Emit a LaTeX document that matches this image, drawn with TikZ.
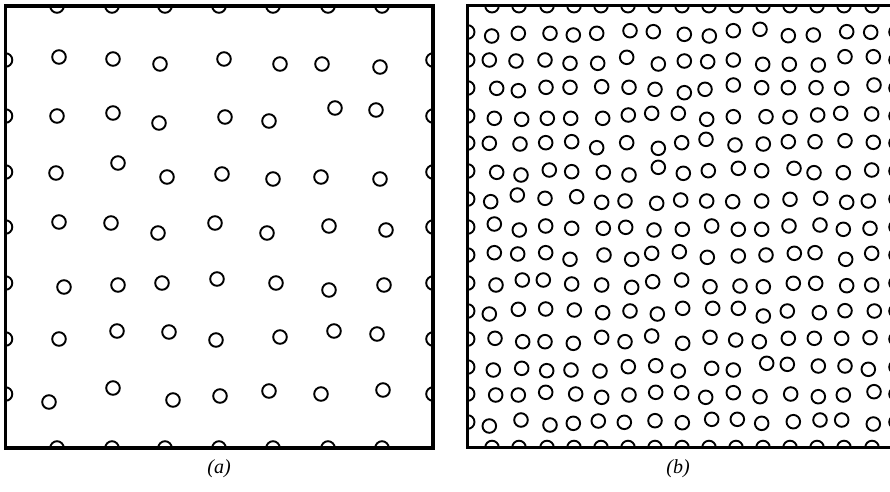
\documentclass[tikz,border=0pt]{standalone}
\usepackage{fontspec}
\setmainfont{Liberation Serif}
\begin{document}
\begin{tikzpicture}[x=1pt,y=-1pt,
  ring/.style={line width=1.9pt},
  framebox/.style={line width=3.4pt},
  caption/.style={font=\fontsize{20}{24}\selectfont\itshape, inner sep=0pt}]
\path[use as bounding box] (0,0) rectangle (890,491);
\clip (0,0) rectangle (890,491);
% ---------------- panel (a) ----------------
\begin{scope}
\clip (5.5,6) rectangle (433,448);
\foreach \x/\y in {
 59/57,113/59,160/64,224/59,280/64,322/64,380/67,
 57/116,113/113,159/123,225/117,269/121,335/108,376/110,
 56/173,118/163,167/177,222/174,273/179,321/177,380/179,
 59/222,111/223,158/233,215/223,267/233,329/226,386/230,
 64/287,118/285,162/283,217/279,276/283,329/290,384/285,
 59/339,117/331,169/332,216/340,280/337,334/331,377/334,
 49/402,113/388,173/400,220/396,269/391,321/394,383/390}
  \draw[ring] (\x,\y) circle (6.8pt);
\foreach \x in {57,112,165,219,273,328,382}{
  \draw[ring] (\x,6) circle (6.8pt);
  \draw[ring] (\x,448) circle (6.8pt);}
\foreach \y in {60,116,172,227,283,339,394}{
  \draw[ring] (5.5,\y) circle (6.8pt);
  \draw[ring] (433,\y) circle (6.8pt);}
\end{scope}
\draw[framebox] (5.5,6) rectangle (433,448);
% ---------------- panel (b) ----------------
\begin{scope}
\clip (467.7,5.7) rectangle (896,447.5);
\foreach \x/\y in {
 491.7/36,518.3/33.3,550/33.3,573.3/35,596.7/33.3,630/30.7,653.3/31.7,684.3/34.3,709.3/36,733.3/30.7,760/29.3,788.3/35.7,813.3/35,846.7/31.7,870.7/32.3,
 489.3/60,516/61,545/60,570/63.3,597.7/63.3,626.7/57.3,658.3/64,684.3/61,707.7/61.7,733.3/60,762.7/64.3,789.3/64.3,818.3/65,845/56.7,873.3/56.7,
 496.7/88.3,518.3/90.7,546/87.3,570/87.3,601.7/86.7,629/87.3,655/89.3,684.3/92.7,705/89.3,733.3/85,761.7/87.7,788.3/87.7,816/87.7,841.7/88.3,874/85,
 494.3/118.3,521.7/119.3,547.3/118.3,570.7/118.3,602.7/118.3,628.3/115,651.7/113.3,678.3/113.3,706.7/119.3,733.3/116.7,766/116.7,790/117.3,817.7/115,840.7/113.3,871.7/114,
 489.3/143.3,520/144,545.7/142.7,571.7/141.7,596.7/147.7,626.7/142.7,658.3/148.3,681.7/142.7,706/139.3,735/145,763.3/144,788.3/141.7,815/141.7,845/140.7,873.3/142.3,
 496.7/172.3,521/175,549.3/170,571.7/171.7,603.3/172.3,629/175,658.3/167.3,683.3/173.3,708.3/170.7,738.3/168.3,761.7/170.7,794/168.3,814/172.7,843.3/172.7,871.7/170,
 490.7/201.7,517.3/195,545/198.3,576.7/196.7,601.7/202.3,625/201,656.7/203.3,680.7/200,706.7/201,732.7/201.7,761.7/201,790/199.3,820.7/198.3,846.7/202.3,868.3/201,
 494.3/224,519.3/230,545.7/226,571.7/228.3,603.3/228.3,625.7/227.3,654/230,682.3/229.3,711.7/226,738.3/229.3,761.7/229.3,789/226,820/225,843.3/229.3,870/228.3,
 494.3/252.7,517.7/254,545.7/252.7,570/259.3,604/255,631.7/259.3,651.7/253.3,679.3/251.7,707.3/257.3,738.3/256,766/255,794.3/253.3,815/252.7,845.7/259.3,871.7/253.3,
 496/285,522.3/280,543.3/280,571.7/284,601.7/285,631.7/287.3,652.7/281.7,681.7/280,710/286.7,740/286,763.3/286.7,793.3/283.3,815.7/283.3,846.7/285.7,871.7/285,
 489.3/314,518.3/309.3,545.7/309,574.3/310,602.7/312.7,630/311,657.3/314,682.7/308.3,712.7/308.3,738.3/308.3,763.3/316,787.3/311,819.3/312.7,845/310.7,874.3/311,
 495/338.3,522.7/341.7,545/341.7,573.3/343.3,601.7/337.3,625/341.7,651.7/336,682.7/343.3,710/337.3,735.7/340,759.3/341.7,788.3/338.3,814.3/338.3,841.7/338.3,870/337.7,
 493.3/370,521.7/368.3,546.7/370.7,571/370,600/371,628.3/366.7,655.7/365.7,678.3/371,711.7/368.3,733.3/370,766.7/363.3,787.3/364.3,818.3/366,845/366,868.3/369.3,
 495.7/395,518.3/395,545.7/392.3,575.7/394,601.7/397.3,629/395,655.7/392.3,681.7/392.7,705.7/397.3,733.3/392.7,760/396.7,790.7/394,818.3/396.7,843.3/395,874/391.7,
 489.3/426,521/420,550/425,573.3/423.3,598.3/421,624.3/422.3,655/420.7,682.3/422.7,711.7/419.3,737.3/419.3,761.7/423.3,793.3/421.7,820/420,841.7/420,873.3/424}
  \draw[ring] (\x,\y) circle (6.8pt);
\foreach \x in {492,519,547,574,601,628,655,682,709,736,763,790,817,844,872}{
  \draw[ring] (\x,5.7) circle (6.8pt);
  \draw[ring] (\x,447.5) circle (6.8pt);}
\foreach \y in {32,60,88,116,143,171,199,227,255,283,311,339,367,394,422}{
  \draw[ring] (467.7,\y) circle (6.8pt);
  \draw[ring] (896,\y) circle (6.8pt);}
\end{scope}
\draw[framebox] (467.7,5.7) rectangle (896,447.5);
% ---------------- captions ----------------
\node[caption] (capa) at (219,469) {(a)};
\node[caption] (capb) at (678,469) {(b)};
\end{tikzpicture}
\end{document}
